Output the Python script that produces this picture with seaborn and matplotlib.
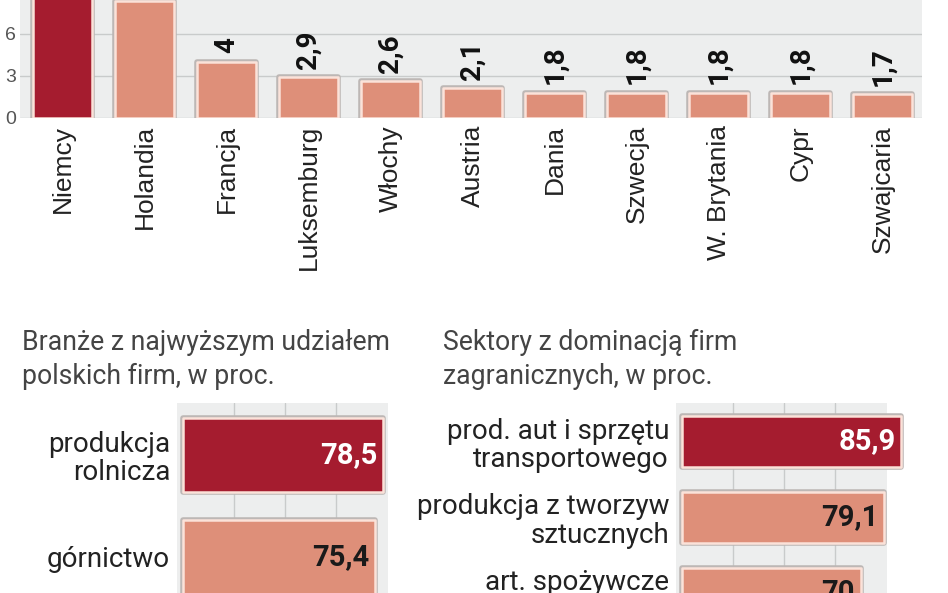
import matplotlib
matplotlib.use("Agg")
import matplotlib.pyplot as plt
import matplotlib.patheffects as pe
import seaborn as sns

# top chart: countries (values of first two bars run off the top of the picture)
kraje = ["Niemcy", "Holandia", "Francja", "Luksemburg", "Włochy", "Austria",
         "Dania", "Szwecja", "W. Brytania", "Cypr", "Szwajcaria"]
kraje_val = [10.5, 8.3, 4.0, 2.9, 2.6, 2.1, 1.8, 1.8, 1.8, 1.8, 1.7]
kraje_lbl = ["", "", "4", "2,9", "2,6", "2,1", "1,8", "1,8", "1,8", "1,8", "1,7"]

# bottom left: polish firms share
pl_title = "Branże z najwyższym udziałem\npolskich firm, w proc."
pl_cat = ["produkcja\nrolnicza", "górnictwo"]
pl_val = [78.5, 75.4]
pl_lbl = ["78,5", "75,4"]

# bottom right: foreign firms share
zg_title = "Sektory z dominacją firm\nzagranicznych, w proc."
zg_cat = ["prod. aut i sprzętu\ntransportowego", "produkcja z tworzyw\nsztucznych",
          "art. spożywcze\n "]
zg_val = [85.9, 79.1, 70.0]
zg_lbl = ["85,9", "79,1", "70"]

DARK = "#a51c2f"
SALMON = "#de8f79"
BG = "#edeeee"
EDGE = "#fbe2d9"
GRID = "#c9cbcb"

sns.set_style("white")
plt.rcParams["font.family"] = ["Roboto", "DejaVu Sans"]

W, H = 948, 593
fig = plt.figure(figsize=(W / 100, H / 100), dpi=100)


def px_axes(left, top, right, bottom):
    return fig.add_axes([left / W, (H - bottom) / H, (right - left) / W, (bottom - top) / H])


def style_bars(ax):
    for i, p in enumerate(ax.patches):
        p.set_facecolor(DARK if i == 0 else SALMON)
        p.set_edgecolor(EDGE)
        p.set_linewidth(1.8)
        p.set_joinstyle("round")
        p.set_clip_on(False)
        p.set_path_effects([pe.Stroke(linewidth=4.0, foreground="#bdb7b5", joinstyle="round"),
                            pe.Normal()])


# ---------------- top chart ----------------
ax = px_axes(20, 0, 922, 118)
ax.set_facecolor(BG)
sns.barplot(x=kraje, y=kraje_val, color=SALMON, saturation=1,
            width=0.72, ax=ax, zorder=3)
style_bars(ax)
for p in ax.patches:
    p.set_clip_on(True)
ax.set_yticks([0, 3, 6])
ax.set_yticklabels(["0", "3", "6"], fontsize=14, color="#555555",
                   family=["Liberation Sans", "DejaVu Sans"])
ax.set_ylim(0, 8.4)
ax.set_xlim(-0.52, 10.48)
ax.yaxis.grid(True, color=GRID, linewidth=1)
ax.set_axisbelow(True)
ax.tick_params(axis="y", length=0, pad=3)
ax.tick_params(axis="x", length=0, pad=5)
ax.set_xticks(range(len(kraje)))
ax.set_xticklabels(kraje, rotation=90, fontsize=19, color="#222222",
                   family=["Liberation Sans", "DejaVu Sans"])
ax.set_xlabel("")
ax.set_ylabel("")
for s in ax.spines.values():
    s.set_visible(False)
ax.bar_label(ax.containers[0], labels=kraje_lbl, rotation=90, padding=6, fontsize=20,
             fontweight="bold", color="#111111", clip_on=False)


# ---------------- bottom charts ----------------
def hbar(ax, cats, vals, lbls, title, title_x, width, ylim):
    ax.set_facecolor(BG)
    sns.barplot(x=vals, y=cats, color=SALMON, saturation=1,
                orient="h", width=width, ax=ax, zorder=3)
    style_bars(ax)
    ax.set_xticks([20, 40, 60])
    ax.set_xlim(-2.5, 80.4)
    ax.set_ylim(*ylim)
    ax.xaxis.grid(True, color=GRID, linewidth=1)
    ax.set_axisbelow(True)
    ax.tick_params(axis="x", length=0, labelbottom=False)
    ax.tick_params(axis="y", length=0, pad=5)
    ax.set_yticks(range(len(cats)))
    ax.set_yticklabels(cats, fontsize=20, color="#222222", linespacing=1.05)
    ax.set_xlabel("")
    ax.set_ylabel("")
    for s in ax.spines.values():
        s.set_visible(False)
    texts = ax.bar_label(ax.containers[0], labels=lbls, padding=-4, fontsize=21,
                         fontweight="bold", clip_on=False, zorder=5)
    for i, t in enumerate(texts):
        t.set_ha("right")
        t.set_annotation_clip(False)
        t.set_color("white" if i == 0 else "#1a1a1a")
    fig.text(title_x / W, (H - 329) / H, title, fontsize=19.2, color="#444444",
             va="top", ha="left", linespacing=1.35)


ax2 = px_axes(177, 403, 388, 618)
hbar(ax2, pl_cat, pl_val, pl_lbl, pl_title, 22, 0.725, (1.6, -0.51))

ax3 = px_axes(676, 403, 887, 639)
hbar(ax3, zg_cat, zg_val, zg_lbl, zg_title, 443, 0.67, (2.6, -0.507))

fig.savefig("out.png", dpi=100)
